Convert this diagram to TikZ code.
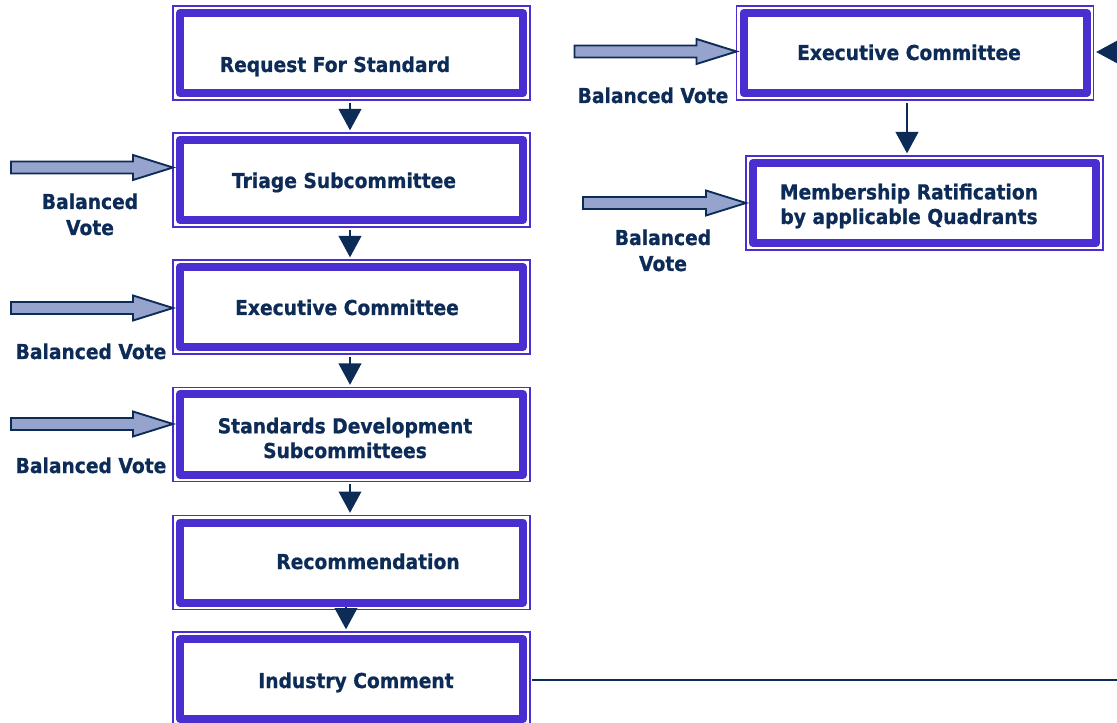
\documentclass[tikz,border=0pt]{standalone}
\usepackage{fontspec}
\setmainfont{DejaVu Sans}[FakeStretch=0.91,BoldFeatures={FakeBold=0.8}]
\usetikzlibrary{arrows.meta,fit}
\definecolor{boxc}{HTML}{4A2ED0}
\definecolor{navy}{HTML}{0D2B57}
\definecolor{afill}{HTML}{95A3CD}
\newcommand\blockarr[2]{%
  \draw[barrow] ([shift={(-#2,-6)}]#1) -- ([shift={(-40,-6)}]#1) -- ([shift={(-40,-12.5)}]#1) -- (#1)
    -- ([shift={(-40,12.5)}]#1) -- ([shift={(-40,6)}]#1) -- ([shift={(-#2,6)}]#1) -- cycle;}
\begin{document}
\begin{tikzpicture}[x=0.75pt,y=-0.75pt,
  inbox/.style={draw=boxc,line width=6pt,line join=round,minimum width=257.25pt,minimum height=60pt,inner sep=0pt,outer sep=0pt},
  outbox/.style={draw=boxc,line width=1.1pt,inner sep=5.25pt,outer sep=0pt},
  lbl/.style={text=navy,font=\fontsize{15.4pt}{18.5pt}\selectfont\bfseries,align=center,inner sep=0pt,anchor=base},
  lblv/.style={lbl,font=\fontsize{15.4pt}{19.5pt}\selectfont\bfseries},
  flow/.style={draw=navy,line width=1.3pt,-{Triangle[width=17pt,length=16pt]},shorten <=2pt,shorten >=2pt},
  barrow/.style={draw=navy,fill=afill,line width=1.4pt,line join=miter},
  conn/.style={draw=navy,line width=1.3pt}]
\useasboundingbox (0,0) rectangle (1117,723);
\clip (0,0) rectangle (1117,723);
% left column boxes
\node[inbox] (b1) at (351.5,53) {};
\node[outbox,fit=(b1)] (B1) {};
\node[inbox] (b2) at (351.5,180) {};
\node[outbox,fit=(b2)] (B2) {};
\node[inbox] (b3) at (351.5,307) {};
\node[outbox,fit=(b3)] (B3) {};
\node[inbox] (b4) at (351.5,434.5) {};
\node[outbox,fit=(b4)] (B4) {};
\node[inbox] (b5) at (351.5,562.5) {};
\node[outbox,fit=(b5)] (B5) {};
\node[inbox] (b6) at (351.5,679) {};
\node[outbox,fit=(b6)] (B6) {};
% right column boxes
\node[inbox] (b7) at (915,53) {};
\node[outbox,fit=(b7)] (B7) {};
\node[inbox] (b8) at (924.5,203) {};
\node[outbox,fit=(b8)] (B8) {};
% box texts (base anchor = baseline of the last line)
\node[lbl] (t1) at (335,72) {Request For Standard};
\node[lbl] (t2) at (344,188) {Triage Subcommittee};
\node[lbl] (t3) at (347,315) {Executive Committee};
\node[lbl] (t4) at (345,458) {Standards Development\\Subcommittees};
\node[lbl] (t5) at (368,569) {Recommendation};
\node[lbl] (t6) at (356,688) {Industry Comment};
\node[lbl] (t7) at (909,60) {Executive Committee};
\node[lbl] (t8) at (909,224) {Membership Ratification\\by applicable Quadrants};
% vote labels
\node[lblv] (v1l) at (90,235) {Balanced\\Vote};
\node[lblv] (v2l) at (91,359) {Balanced Vote};
\node[lblv] (v3l) at (91,473) {Balanced Vote};
\node[lblv] (v4l) at (653,103) {Balanced Vote};
\node[lblv] (v5l) at (663,271) {Balanced\\Vote};
% down connectors
\coordinate (ax) at (350,0);
\coordinate (ax2) at (346,0);
\coordinate (ax3) at (907,0);
\draw[flow] (B1.south -| ax) -- (B2.north -| ax);
\draw[flow] (B2.south -| ax) -- (B3.north -| ax);
\draw[flow] (B3.south -| ax) -- (B4.north -| ax);
\draw[flow] (B4.south -| ax) -- (B5.north -| ax);
\draw[flow] (B5.south -| ax2) -- (B6.north -| ax2);
\draw[flow] (B7.south -| ax3) -- (B8.north -| ax3);
% incoming from the right edge
\coordinate (offR) at (1200,52);
\draw[flow] (offR) -- (B7.east |- offR);
\coordinate (offI) at (1200,680);
\draw[conn,shorten <=1.5pt] (B6.east |- offI) -- (offI);
% block arrows
\coordinate (v1) at (B2.west |- 0,167.5);
\coordinate (v2) at (B3.west |- 0,308);
\coordinate (v3) at (B4.west |- 0,424);
\coordinate (v4) at (B7.west |- 0,51.5);
\coordinate (v5) at (B8.west |- 0,203);
\blockarr{v1}{162}
\blockarr{v2}{162}
\blockarr{v3}{162}
\blockarr{v4}{162}
\blockarr{v5}{163}
\end{tikzpicture}
\end{document}
